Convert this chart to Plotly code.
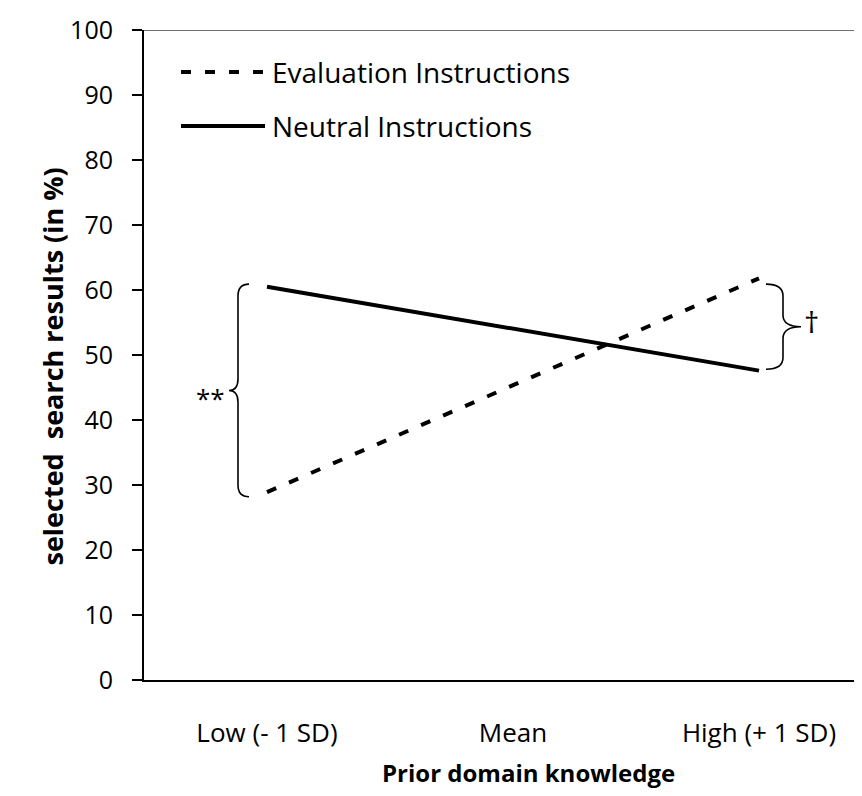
import plotly.graph_objects as go

categories = ["Low (- 1 SD)", "Mean", "High (+ 1 SD)"]
end_points = ["Low (- 1 SD)", "High (+ 1 SD)"]
evaluation = [28.9, 61.8]
neutral = [60.5, 47.6]
series_names = ["Evaluation Instructions", "Neutral Instructions"]
y_ticks = list(range(0, 101, 10))

FONT = "Open Sans"
W, H = 862, 796
PL, PR, PT, PB = 136, 862, 22, 672


def px(x):
    return (x - PL) / (PR - PL)


def py(y):
    return (PB - y) / (PB - PT)


fig = go.Figure()
fig.add_trace(go.Scatter(x=end_points, y=evaluation, mode="lines", name=series_names[0],
                         line=dict(color="black", width=4, dash="10px,14px"), showlegend=False))
fig.add_trace(go.Scatter(x=end_points, y=neutral, mode="lines", name=series_names[1],
                         line=dict(color="black", width=4), showlegend=False))

shapes = []
annotations = []

# custom legend
for i, (name, dash) in enumerate(zip(series_names, ["10px,14px", "solid"])):
    ly = 64 + i * 54
    shapes.append(dict(type="line", xref="paper", yref="paper", x0=px(173), x1=px(257),
                       y0=py(ly), y1=py(ly), line=dict(color="black", width=4, dash=dash)))
    annotations.append(dict(text=name, xref="paper", yref="paper", x=px(262), y=py(ly),
                            xanchor="left", yanchor="middle", showarrow=False,
                            font=dict(family=FONT, size=28, color="black")))

# top border line
shapes.append(dict(type="line", xref="paper", yref="y", x0=0, x1=1, y0=100, y1=100,
                   line=dict(color="#404040", width=1.5)))


def brace(x_tip, x_v, x_mid, top, bot, r=1.8):
    mid = (top + bot) / 2
    a, b, c = px(x_tip), px(x_v), px(x_mid)
    return (f"M {a},{top} Q {b},{top} {b},{top - r} L {b},{mid + r} "
            f"Q {b},{mid} {c},{mid} Q {b},{mid} {b},{mid - r} L {b},{bot + r} "
            f"Q {b},{bot} {a},{bot}")


lt, lb = max(evaluation[0], neutral[0]) + 0.4, min(evaluation[0], neutral[0]) - 0.7
rt, rb = max(evaluation[1], neutral[1]) - 0.9, min(evaluation[1], neutral[1]) + 0.2
shapes.append(dict(type="path", xref="paper", yref="y", path=brace(241, 230, 221, lt, lb),
                   line=dict(color="black", width=1.6)))
shapes.append(dict(type="path", xref="paper", yref="y", path=brace(758, 775, 793, rt, rb),
                   line=dict(color="black", width=1.6)))
annotations.append(dict(text="**", xref="paper", yref="y", x=px(186), y=(lt + lb) / 2 - 1.2,
                        showarrow=False, font=dict(family=FONT, size=26, color="black")))
annotations.append(dict(text="†", xref="paper", yref="y", x=px(813), y=(rt + rb) / 2 + 0.8,
                        showarrow=False, font=dict(family=FONT, size=30, color="black")))

# axis titles
annotations.append(dict(text="<b>selected  search results (in %)</b>", xref="paper", yref="paper",
                        x=px(23), y=py(359), textangle=-90, showarrow=False,
                        font=dict(family=FONT, size=27, color="black")))
annotations.append(dict(text="<b>Prior domain knowledge</b>", xref="paper", yref="paper",
                        x=px(520), y=py(783), showarrow=False,
                        font=dict(family=FONT, size=24, color="black")))

fig.update_layout(
    width=W, height=H,
    margin=dict(l=PL, r=W - PR, t=PT, b=H - PB),
    paper_bgcolor="white", plot_bgcolor="white",
    shapes=shapes, annotations=annotations,
    font=dict(family=FONT, color="black"),
    xaxis=dict(type="category", categoryorder="array", categoryarray=categories,
               range=[-0.5, -0.5 + (PR - PL) / 246.0], showgrid=False, zeroline=False,
               showline=True, linecolor="black", linewidth=2, ticks="", automargin=False,
               tickfont=dict(family=FONT, size=26), ticklabelstandoff=29),
    yaxis=dict(range=[0, 100], tickvals=y_ticks, showgrid=False, zeroline=False,
               showline=True, linecolor="black", linewidth=2, ticks="outside",
               ticklen=10, tickwidth=1.5, tickcolor="black", automargin=False,
               tickfont=dict(family=FONT, size=25), ticklabelstandoff=14),
)

fig.write_html("out.html")
